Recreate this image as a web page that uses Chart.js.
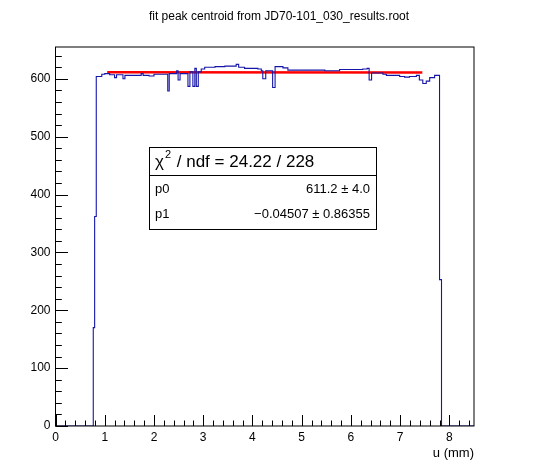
<!DOCTYPE html>
<html>
<head>
<meta charset="utf-8">
<script src="https://cdn.jsdelivr.net/npm/chart.js@4.4.1/dist/chart.umd.min.js"></script>
<style>
  html, body { margin: 0; padding: 0; background: #fff; }
  #wrap { width: 558px; height: 474px; }
</style>
</head>
<body>
<div id="wrap"><canvas id="fit-chart" width="558" height="474"></canvas></div>
<script>
// histogram: value holds from each edge until the next one
const binEdges = [0, 0.767, 0.795, 0.828, 0.94, 1.0, 1.10, 1.20, 1.24, 1.37, 1.41, 1.74, 1.78, 1.90, 2.00,
  2.28, 2.31, 2.46, 2.49, 2.53, 2.69, 2.73, 2.79, 2.83, 2.86, 2.90, 2.96, 3.03, 3.24, 3.44, 3.67, 3.72,
  3.84, 4.11, 4.18, 4.21, 4.27, 4.41, 4.46, 4.62, 4.72, 5.06, 5.47, 5.77, 6.24, 6.33, 6.37, 6.42, 6.65,
  6.72, 6.99, 7.09, 7.19, 7.33, 7.39, 7.46, 7.53, 7.60, 7.70, 7.80, 7.84, 8.5];
const counts = [0, 170, 362, 604, 608, 609, 607, 602, 607, 600, 606, 609, 606, 605, 608,
  579, 609, 614, 598, 609, 587, 612, 587, 618, 587, 612, 617, 620, 621, 622, 625, 620,
  618, 617, 614, 600, 614, 585, 621, 619, 615, 615, 614, 616, 617, 618, 598, 610, 608,
  606, 604, 603, 604, 606, 598, 592, 596, 602, 606, 253, 0, 0];

// pol1 fit drawn over its range
const fitX = [1.05, 7.45];
const fitY = [611.15, 610.86];

const xTicks = [0, 1, 2, 3, 4, 5, 6, 7, 8];
const yTicks = [0, 100, 200, 300, 400, 500, 600];

const titleText = 'fit peak centroid from JD70-101_030_results.root';
const xTitle = 'u (mm)';
const statRows = [['p0', '611.2 \u00b1 4.0'], ['p1', '\u22120.04507 \u00b1 0.86355']];

const FONT = '"Liberation Sans", Arial, Helvetica, sans-serif';

// step line: each value starts at its own edge, so shift the y values one point back
const stepPoints = binEdges.map((e, i) => ({ x: e, y: i > 0 ? counts[i - 1] : counts[0] }));

const rootFrame = {
  id: 'rootFrame',
  afterDatasetsDraw(chart) {
    const ctx = chart.ctx;
    const a = chart.chartArea;
    const xs = chart.scales.x, ys = chart.scales.y;
    ctx.save();
    ctx.strokeStyle = '#000';
    ctx.lineWidth = 1;
    ctx.strokeRect(a.left, a.top, a.right - a.left, a.bottom - a.top);

    // ticks point inward like in ROOT
    ctx.beginPath();
    for (let i = 0; i <= 42; i++) {
      const v = i * 0.2;
      const px = Math.round(xs.getPixelForValue(v)) + 0.5;
      const len = (i % 5 === 0) ? 11 : 5.5;
      ctx.moveTo(px, a.bottom);
      ctx.lineTo(px, a.bottom - len);
    }
    for (let v = 0; v <= 640; v += 20) {
      const py = Math.round(ys.getPixelForValue(v)) + 0.5;
      const len = (v % 100 === 0) ? 12.5 : 6.3;
      ctx.moveTo(a.left, py);
      ctx.lineTo(a.left + len, py);
    }
    ctx.stroke();

    // titles
    ctx.fillStyle = '#000';
    ctx.font = '12px ' + FONT;
    ctx.textAlign = 'center';
    ctx.textBaseline = 'middle';
    ctx.fillText(titleText, 279, 17);
    ctx.font = '13px ' + FONT;
    ctx.textAlign = 'right';
    ctx.fillText(xTitle, a.right, 453);

    // stats box
    const bx = 149.5, by = 147.5, bw = 227, bh = 82;
    ctx.fillStyle = '#fff';
    ctx.fillRect(bx, by, bw, bh);
    ctx.strokeRect(bx, by, bw, bh);
    ctx.beginPath();
    ctx.moveTo(bx, 175.5);
    ctx.lineTo(bx + bw, 175.5);
    ctx.stroke();
    ctx.fillStyle = '#000';
    ctx.textAlign = 'left';
    ctx.font = '17px ' + FONT;
    ctx.fillText('\u03c7', 155, 162);
    let w = ctx.measureText('\u03c7').width;
    ctx.font = '11px ' + FONT;
    ctx.fillText('2', 155 + w + 1, 155);
    let w2 = ctx.measureText('2').width;
    ctx.font = '17px ' + FONT;
    ctx.fillText(' / ndf = 24.22 / 228', 155 + w + w2 + 2, 162);
    ctx.font = '13px ' + FONT;
    statRows.forEach((r, i) => {
      const ty = 189 + i * 25;
      ctx.textAlign = 'left';
      ctx.fillText(r[0], 155, ty);
      ctx.textAlign = 'right';
      ctx.fillText(r[1], 370, ty);
    });
    ctx.restore();
  }
};

const chart = document.getElementById('fit-chart');
const myChart = new Chart(chart, {
  type: 'line',
  data: {
    datasets: [{
      label: 'histogram',
      data: stepPoints,
      stepped: 'after',
      borderColor: '#1515a8',
      borderWidth: 1.1,
      pointRadius: 0,
      fill: false
    }, {
      label: 'fit',
      data: fitX.map((e, i) => ({ x: e, y: fitY[i] })),
      borderColor: '#ff0000',
      borderWidth: 2.5,
      pointRadius: 0,
      fill: false
    }]
  },
  options: {
    responsive: false,
    animation: false,
    events: [],
    layout: { padding: { left: 0, top: 47, right: 84, bottom: 0 } },
    plugins: {
      legend: { display: false },
      tooltip: { enabled: false }
    },
    scales: {
      x: {
        type: 'linear',
        min: 0,
        max: 8.5,
        afterFit: s => { s.height = 48; },
        afterBuildTicks: s => { s.ticks = xTicks.map(v => ({ value: v })); },
        grid: { display: false, drawTicks: false },
        border: { display: false },
        ticks: {
          padding: 4,
          color: '#000',
          maxRotation: 0,
          autoSkip: false,
          font: { family: FONT, size: 12 }
        }
      },
      y: {
        type: 'linear',
        min: 0,
        max: 655,
        afterFit: s => { s.width = 55.5; },
        afterBuildTicks: s => { s.ticks = yTicks.map(v => ({ value: v })); },
        grid: { display: false, drawTicks: false },
        border: { display: false },
        ticks: {
          padding: 5,
          color: '#000',
          autoSkip: false,
          font: { family: FONT, size: 12 }
        }
      }
    }
  },
  plugins: [rootFrame]
});
</script>
</body>
</html>
